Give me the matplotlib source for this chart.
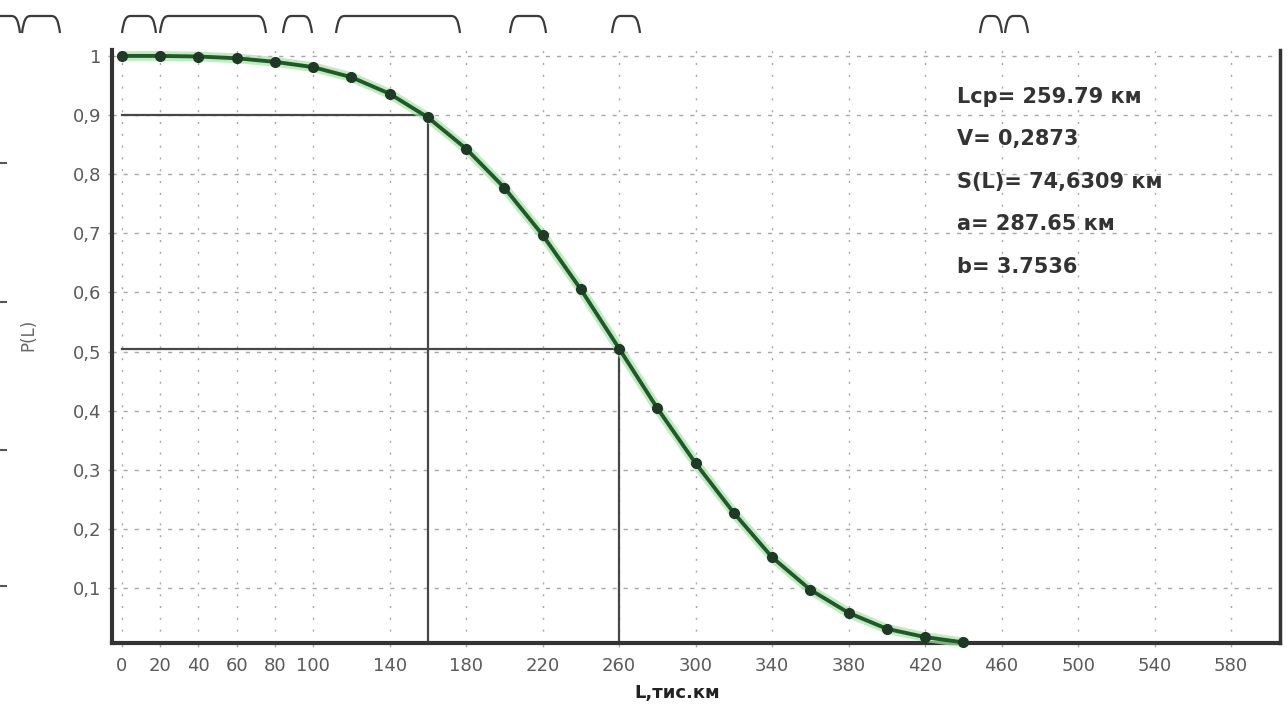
import matplotlib
matplotlib.use("Agg")
import matplotlib.pyplot as plt
from matplotlib.path import Path
from matplotlib.patches import PathPatch
from matplotlib.lines import Line2D

# ---- data ----
L_km = [0, 20, 40, 60, 80, 100, 120, 140, 160, 180, 200, 220, 240, 260,
        280, 300, 320, 340, 360, 380, 400, 420, 440]
P_L = [1.0, 1.0, 0.999, 0.996, 0.990, 0.981, 0.964, 0.936, 0.896, 0.843,
       0.777, 0.697, 0.605, 0.505, 0.404, 0.311, 0.227, 0.152, 0.097,
       0.058, 0.031, 0.017, 0.008]

x_ticks = [0, 20, 40, 60, 80, 100, 140, 180, 220, 260, 300, 340, 380, 420,
           460, 500, 540, 580]
x_tick_labels = [str(v) for v in x_ticks]
y_ticks = [0.1, 0.2, 0.3, 0.4, 0.5, 0.6, 0.7, 0.8, 0.9, 1.0]
y_tick_labels = ["0,1", "0,2", "0,3", "0,4", "0,5", "0,6", "0,7", "0,8", "0,9", "1"]

ref_L = [160, 260]
ref_P = [0.9, 0.505]

stats_lines = ["Lcp= 259.79 км", "V= 0,2873", "S(L)= 74,6309 км",
               "a= 287.65 км", "b= 3.7536"]
x_title = "L,тис.км"
y_title = "P(L)"

# ---- figure ----
W, H = 1287, 713
fig = plt.figure(figsize=(W / 100, H / 100), dpi=100)
fig.patch.set_facecolor("white")

ax = fig.add_axes([112 / W, 1 - 643 / H, (1280 - 112) / W, (643 - 50) / H])
xmin, xmax = -5.2, 605.6
ymin, ymax = 0.007, 1.010
ax.set_xlim(xmin, xmax)
ax.set_ylim(ymin, ymax)

ax.set_xticks(x_ticks)
ax.set_xticklabels(x_tick_labels)
ax.set_yticks(y_ticks)
ax.set_yticklabels(y_tick_labels)

ax.xaxis.grid(True, color="#a8a8a8", linestyle=(0, (1.5, 7)), linewidth=1.0)
ax.yaxis.grid(True, color="#a8a8a8", linestyle=(0, (3, 5)), linewidth=1.0)
ax.set_axisbelow(True)

ax.tick_params(axis="both", labelsize=13, labelcolor="#5a5a5a",
               color="#aaaaaa", length=3, width=1)
ax.tick_params(axis="x", pad=7)
ax.tick_params(axis="y", pad=5)

for side in ["left", "bottom"]:
    ax.spines[side].set_linewidth(3)
    ax.spines[side].set_color("#333333")
ax.spines["right"].set_linewidth(2.5)
ax.spines["right"].set_color("#333333")
ax.spines["top"].set_visible(False)

# reference lines
for Lr, Pr in zip(ref_L, ref_P):
    ax.plot([0, Lr], [Pr, Pr], color="#474747", lw=1.6, zorder=2)
    ax.plot([Lr, Lr], [ymin, Pr], color="#474747", lw=1.6, zorder=2)

# curve
ax.plot(L_km, P_L, color="#a6e3a6", lw=7, alpha=0.7,
        solid_capstyle="round", zorder=3, clip_on=False)
ax.plot(L_km, P_L, color="#1f5a28", lw=2.8, marker="o", ms=7,
        mfc="#1f3a24", mec="#1f3a24", zorder=4, clip_on=False)

# titles
fig.text(677 / W, 1 - 693 / H, x_title, ha="center", va="center",
         fontsize=13, fontweight="bold", color="#222222")
fig.text(28 / W, 1 - 335 / H, y_title, ha="center", va="center",
         rotation=90, fontsize=12, color="#666666")

# statistics block
for i, s in enumerate(stats_lines):
    fig.text(957 / W, 1 - (97 + 42.5 * i) / H, s, ha="left", va="center",
             fontsize=15, fontweight="bold", color="#333333")

# scan artefacts: little dashes at the left edge
for yp in [163, 302, 450, 586]:
    fig.add_artist(Line2D([0, 6 / W], [1 - yp / H, 1 - yp / H],
                          transform=fig.transFigure, color="#555555", lw=1.5))

# scan artefacts: arcs along the top edge
spans = [(-10, 20), (22, 60), (122, 156), (160, 266), (283, 312),
         (336, 460), (510, 546), (612, 640), (980, 1002), (1005, 1028)]
for x0, x1 in spans:
    r = min(9, (x1 - x0) / 2.5)
    pts = [(x0, 33), (x0 + 2, 19), (x0 + 4, 16), (x0 + r, 16),
           (x1 - r, 16), (x1 - 4, 16), (x1 - 2, 19), (x1, 33)]
    codes = [Path.MOVETO, Path.CURVE4, Path.CURVE4, Path.CURVE4,
             Path.LINETO, Path.CURVE4, Path.CURVE4, Path.CURVE4]
    verts = [(px / W, 1 - py / H) for px, py in pts]
    fig.add_artist(PathPatch(Path(verts, codes), transform=fig.transFigure,
                             fill=False, edgecolor="#3a3a3a", lw=1.6))

fig.savefig("out.png", dpi=100, facecolor="white")
